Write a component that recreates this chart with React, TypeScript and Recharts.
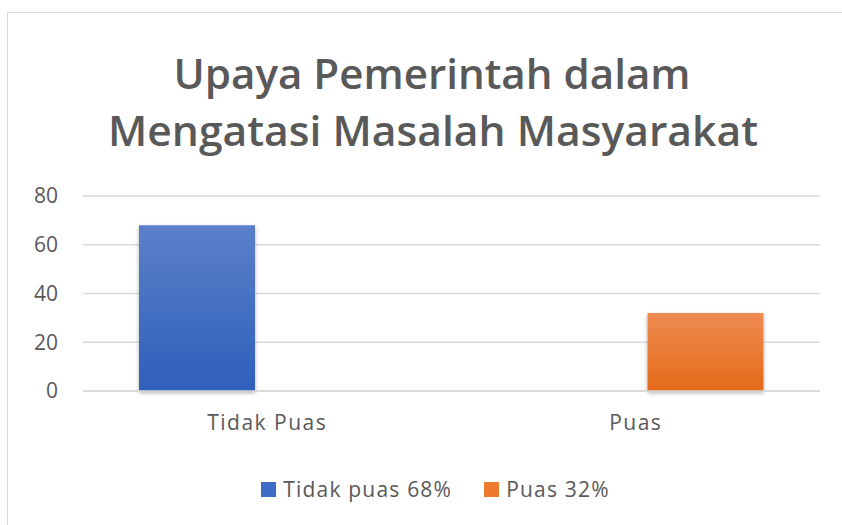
import { BarChart, Bar, XAxis, YAxis, CartesianGrid, Legend } from "recharts";

const categories = ["Tidak Puas", "Puas"];
const tidakPuasValues = [68, null];
const puasValues = [null, 32];
const yTicks = [0, 20, 40, 60, 80];
const titleLines = ["Upaya Pemerintah dalam", "Mengatasi Masalah Masyarakat"];
const seriesNames = ["Tidak puas 68%", "Puas 32%"];
const seriesColors = ["#3f6cc4", "#ee7a30"];

const data = categories.map((c, i) => ({
  name: c,
  tidak: tidakPuasValues[i],
  puas: puasValues[i],
}));

const textColor = "#595959";
const font = "'Open Sans', sans-serif";

function LegendBox() {
  return (
    <div style={{ display: "flex", justifyContent: "center", gap: 32, fontFamily: font, fontSize: 21, letterSpacing: 1.2, color: textColor }}>
      {seriesNames.map((n, i) => (
        <div key={n} style={{ display: "flex", alignItems: "center", gap: 7 }}>
          <span style={{ width: 15, height: 15, background: seriesColors[i], display: "inline-block" }} />
          <span>{n}</span>
        </div>
      ))}
    </div>
  );
}

export default function App() {
  return (
    <div
      style={{
        position: "fixed",
        left: 7,
        top: 12,
        width: 855,
        height: 513,
        borderLeft: "1px solid #d9d9d9",
        borderTop: "1px solid #d9d9d9",
        background: "#fff",
      }}
    >
      <svg width={855} height={150} style={{ position: "absolute", left: 0, top: 0 }}>
        <text
          x={424}
          y={76}
          textAnchor="middle"
          textLength={517}
          lengthAdjust="spacingAndGlyphs"
          fontFamily="'Open Sans', sans-serif"
          fontWeight={600}
          fontSize={42}
          fill={textColor}
        >
          {titleLines[0]}
        </text>
        <text
          x={425}
          y={133}
          textAnchor="middle"
          textLength={650}
          lengthAdjust="spacingAndGlyphs"
          fontFamily="'Open Sans', sans-serif"
          fontWeight={600}
          fontSize={42}
          fill={textColor}
        >
          {titleLines[1]}
        </text>
      </svg>
      <BarChart
        width={855}
        height={513}
        data={data}
        margin={{ top: 183, right: 43, left: 0, bottom: 95 }}
        barCategoryGap={56}
        barGap={24}
        style={{ position: "absolute", left: 0, top: 0 }}
      >
        <defs>
          <linearGradient id="gBlue" x1="0" y1="0" x2="0" y2="1">
            <stop offset="0%" stopColor="#5b80c9" />
            <stop offset="100%" stopColor="#2e5fba" />
          </linearGradient>
          <linearGradient id="gOrange" x1="0" y1="0" x2="0" y2="1">
            <stop offset="0%" stopColor="#ef8b52" />
            <stop offset="100%" stopColor="#e46a17" />
          </linearGradient>
          <filter id="shadow" x="-10%" y="-10%" width="120%" height="130%">
            <feDropShadow dx="0" dy="2" stdDeviation="2" floodColor="#000" floodOpacity="0.3" />
          </filter>
        </defs>
        <CartesianGrid vertical={false} stroke="#d9d9d9" strokeWidth={1.5} />
        <XAxis
          dataKey="name"
          height={40}
          tickLine={false}
          axisLine={{ stroke: "#d9d9d9", strokeWidth: 1.5 }}
          tick={{ fill: textColor, fontSize: 21, fontFamily: font, letterSpacing: 1.5 }}
          tickMargin={18}
        />
        <YAxis
          width={75}
          domain={[0, 80]}
          ticks={yTicks}
          tickLine={false}
          axisLine={false}
          tickSize={0}
          tickMargin={25}
          tick={{ fill: textColor, fontSize: 21, fontFamily: font }}
        />
        <Legend
          verticalAlign="middle"
          align="center"
          wrapperStyle={{ top: 462, left: 0, width: 855 }}
          content={<LegendBox />}
        />
        <Bar
          dataKey="tidak"
          name={seriesNames[0]}
          fill="url(#gBlue)"
          filter="url(#shadow)"
          isAnimationActive={false}
        />
        <Bar
          dataKey="puas"
          name={seriesNames[1]}
          fill="url(#gOrange)"
          filter="url(#shadow)"
          isAnimationActive={false}
        />
      </BarChart>
    </div>
  );
}
